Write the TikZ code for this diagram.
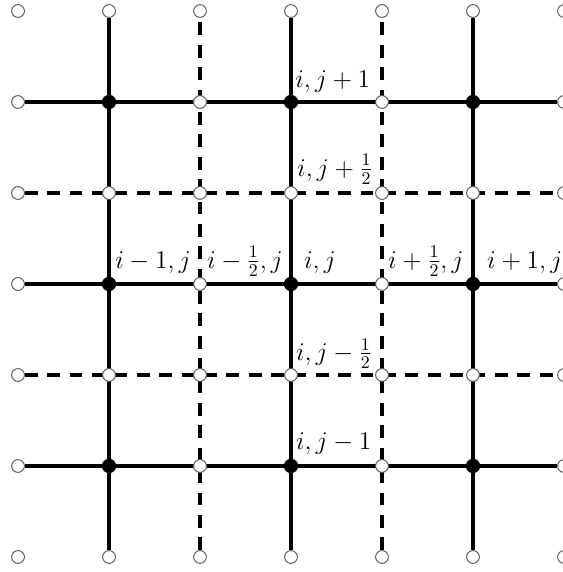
\RequirePackage{fix-cm}
\documentclass[tikz,border=0pt]{standalone}
\pgfdeclarelayer{background}
\pgfsetlayers{background,main}
\begin{document}
\begin{tikzpicture}[x=2cm,y=2cm,
  open/.style={circle,draw=black!65,line width=0.6pt,fill=white,inner sep=0pt,minimum size=8pt},
  full/.style={circle,fill=black,inner sep=0pt,minimum size=9pt},
  solidline/.style={line width=2.4pt},
  dashline/.style={line width=2.2pt,dash pattern=on 8pt off 6pt},
  lab/.style={anchor=base west,inner sep=0pt,font=\fontsize{16}{19}\selectfont}]
\useasboundingbox (0,0) rectangle (6.187,6.286);
\foreach \c in {0,...,6}{\foreach \r in {0,...,6}{
  \def\st{open}
  \ifodd\c\ifodd\r\def\st{full}\fi\fi
  \node[\st] (n-\c-\r) at (0.198+\c,0.165+\r) {};
}}
\begin{pgfonlayer}{background}
\foreach \k in {1,3,5}{
  \draw[solidline] (n-0-\k) -- (n-6-\k);
  \draw[solidline] (n-\k-0) -- (n-\k-6);
}
\foreach \k in {2,4}{
  \draw[dashline] (n-0-\k) -- (n-6-\k);
  \draw[dashline] (n-\k-0) -- (n-\k-6);
}
\end{pgfonlayer}
\node[lab] (l1) at ([shift={(2.5pt,9.3pt)}]n-3-5.center) {$i,j+1$};
\node[lab] (l2) at ([shift={(3.7pt,10.6pt)}]n-3-4.center) {$i,j+\frac{1}{2}$};
\node[lab] (l3) at ([shift={(3.7pt,10pt)}]n-1-3.center) {$i-1,j$};
\node[lab] (l4) at ([shift={(4.3pt,10pt)}]n-2-3.center) {$i-\frac{1}{2},j$};
\node[lab] (l5) at ([shift={(8pt,10pt)}]n-3-3.center) {$i,j$};
\node[lab] (l6) at ([shift={(3.7pt,10pt)}]n-4-3.center) {$i+\frac{1}{2},j$};
\node[lab] (l7) at ([shift={(8.7pt,10pt)}]n-5-3.center) {$i+1,j$};
\node[lab] (l8) at ([shift={(3pt,9.3pt)}]n-3-2.center) {$i,j-\frac{1}{2}$};
\node[lab] (l9) at ([shift={(3pt,10.6pt)}]n-3-1.center) {$i,j-1$};
\end{tikzpicture}
\end{document}
